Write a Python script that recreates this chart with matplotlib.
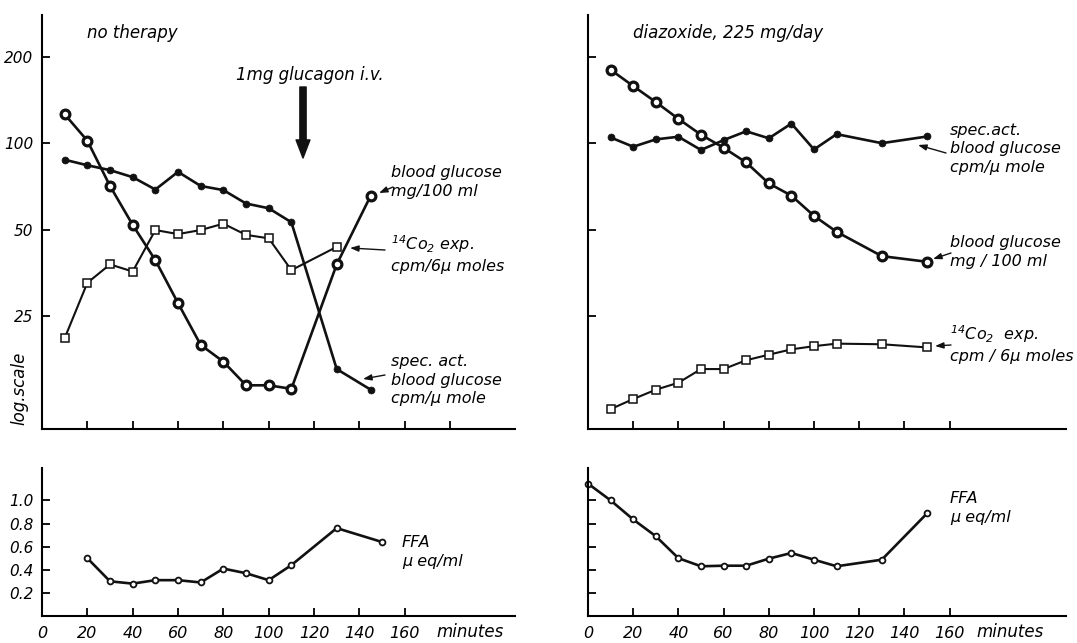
import matplotlib
matplotlib.use("Agg")
import matplotlib.pyplot as plt

W, H = 1077, 643

plt.rcParams["font.family"] = ["DejaVu Sans"]
plt.rcParams["font.style"] = "italic"
plt.rcParams["mathtext.fontset"] = "dejavusans"
plt.rcParams["mathtext.default"] = "it"

# no therapy (minutes / values read off the log scale)
t_left = [10, 20, 30, 40, 50, 60, 70, 80, 90, 100, 110, 130, 145]
glucose_left = [126, 102, 71, 52, 39.2, 27.8, 19.9, 17.4, 14.4, 14.4, 14.0, 37.9, 65.7]
specact_left = [87.6, 83.8, 80.6, 76.2, 69.0, 79.5, 71.0, 68.7, 61.7, 59.4, 53.1, 16.4, 13.9]
t_co2_left = [10, 20, 30, 40, 50, 60, 70, 80, 90, 100, 110, 130]
co2_left = [21.0, 32.7, 37.9, 35.8, 49.9, 48.3, 49.9, 52.5, 48.0, 46.7, 36.2, 43.6]

# diazoxide 225 mg/day
t_right = [10, 20, 30, 40, 50, 60, 70, 80, 90, 100, 110, 130, 150]
glucose_right = [180, 158, 139, 121.5, 107, 96.4, 85.7, 72.5, 65.7, 55.9, 49.2, 40.5, 38.7]
specact_right = [104.7, 97.2, 103.1, 105.3, 94.7, 102.5, 110, 104, 117, 95.1, 107.5, 100, 105.5]
co2_right = [11.9, 12.9, 13.9, 14.7, 16.4, 16.4, 17.6, 18.4, 19.2, 19.7, 20.1, 20.0, 19.5]

# FFA, µeq/ml
t_ffa_left = [20, 30, 40, 50, 60, 70, 80, 90, 100, 110, 130, 150]
ffa_left = [0.50, 0.30, 0.28, 0.31, 0.31, 0.29, 0.41, 0.37, 0.31, 0.44, 0.76, 0.64]
t_ffa_right = [0, 10, 20, 30, 40, 50, 60, 70, 80, 90, 100, 110, 130, 150]
ffa_right = [1.145, 1.0, 0.835, 0.69, 0.50, 0.43, 0.435, 0.435, 0.496, 0.545, 0.487, 0.43, 0.487, 0.887]

log_ticks = [25, 50, 100, 200]
ffa_ticks = [0.2, 0.4, 0.6, 0.8, 1.0]
x_ticks = [0, 20, 40, 60, 80, 100, 120, 140, 160]


def box(l, t, r, b):
    return [l / W, 1 - b / H, (r - l) / W, (b - t) / H]


def P(px, py):
    # reference pixel (top-left origin) -> figure pixels
    return (px, H - py)


def style(ax):
    for s in ["top", "right"]:
        ax.spines[s].set_visible(False)
    for s in ["left", "bottom"]:
        ax.spines[s].set_linewidth(1.5)
    ax.tick_params(direction="in", length=6, width=1.3, labelsize=11)
    ax.minorticks_off()


fig = plt.figure(figsize=(W / 100, H / 100), dpi=100)

ax1 = fig.add_axes(box(42, 15, 515, 429))
ax2 = fig.add_axes(box(588, 15, 1066, 429))
ax3 = fig.add_axes(box(42, 468, 515, 616))
ax4 = fig.add_axes(box(588, 468, 1066, 616))

line = dict(color="#111111", lw=1.9)
thin = dict(color="#111111", lw=1.5)
big_o = dict(marker="o", ms=6.3, mew=2.3, mfc="white", mec="#111111")
dot = dict(marker="o", ms=5, mew=0.5, mfc="#111111", mec="#111111")
sq = dict(marker="s", ms=5.2, mew=1.1, mfc="white", mec="#111111")
small_o = dict(marker="o", ms=4.2, mew=1.3, mfc="white", mec="#111111")

ax1.plot(t_left, specact_left, **line, **dot)
ax1.plot(t_co2_left, co2_left, **thin, **sq)
ax1.plot(t_left, glucose_left, **line, **big_o)

ax2.plot(t_right, specact_right, **line, **dot)
ax2.plot(t_right, co2_right, **thin, **sq)
ax2.plot(t_right, glucose_right, **line, **big_o)

ax3.plot(t_ffa_left, ffa_left, **line, **small_o)
ax4.plot(t_ffa_right, ffa_right, **line, **small_o, clip_on=False)

for ax in (ax1, ax2):
    ax.set_yscale("log")
    ax.set_ylim(10.15, 279)
    ax.set_yticks(log_ticks)
    style(ax)
ax1.set_xlim(0, 473 / 2.267)
ax2.set_xlim(0, 478 / 2.26)
ax1.set_xticks(x_ticks + [180])
ax1.set_xticklabels([])
ax2.set_xticks(x_ticks)
ax2.set_xticklabels([])
ax1.set_yticklabels([str(v) for v in log_ticks])
ax2.set_yticklabels([])
ax1.tick_params(axis="y", pad=6)

for ax in (ax3, ax4):
    ax.set_ylim(0, 1.28)
    ax.set_yticks(ffa_ticks)
    ax.set_xticks(x_ticks)
    style(ax)
    ax.tick_params(axis="x", pad=7, labelsize=11.5)
ax3.set_xlim(0, 473 / 2.267)
ax4.set_xlim(0, 478 / 2.26)
ax3.set_yticklabels([f"{v:.1f}" for v in ffa_ticks])
ax3.tick_params(axis="y", pad=6)
ax4.set_yticklabels([])

fs = 12
afs = 11.5
fig.text(87 / W, 1 - 33 / H, "no therapy", fontsize=fs, va="center")
fig.text(633 / W, 1 - 33 / H, "diazoxide, 225 mg/day", fontsize=fs, va="center")
fig.text(19 / W, 1 - 388 / H, "log.scale", fontsize=fs, rotation=90, ha="center", va="center")

# glucagon arrow
fig.text(310 / W, 1 - 75 / H, "1mg glucagon i.v.", fontsize=fs, ha="center", va="center")
ax1.annotate("", xy=P(303, 158), xycoords="figure pixels", xytext=P(303, 87), textcoords="figure pixels",
             arrowprops=dict(arrowstyle="simple,head_width=1.0,head_length=1.3,tail_width=0.45",
                             color="#111111", shrinkA=0, shrinkB=0))

small_arrow = dict(arrowstyle="-|>,head_width=0.18,head_length=0.5", color="#111111", lw=1.0,
                   shrinkA=0, shrinkB=0)


def label(ax, x, y, txt, tail, tip):
    fig.text(x / W, 1 - y / H, txt, fontsize=afs, va="center", linespacing=1.32)
    ax.annotate("", xy=P(*tip), xycoords="figure pixels", xytext=P(*tail), textcoords="figure pixels",
                arrowprops=small_arrow)


label(ax1, 391, 182, "blood glucose\nmg/100 ml", (393, 187), (379, 193))
label(ax1, 391, 254, "$^{14}$Co$_2$ exp.\ncpm/6µ moles", (385, 250), (350, 248))
label(ax1, 391, 380, "spec. act.\nblood glucose\ncpm/µ mole", (385, 375), (363, 379))

label(ax2, 950, 149, "spec.act.\nblood glucose\ncpm/µ mole", (946, 153), (918, 145))
label(ax2, 950, 252, "blood glucose\nmg / 100 ml", (951, 253), (933, 259))
label(ax2, 950, 344, "$^{14}$Co$_2$  exp.\ncpm / 6µ moles", (951, 345), (935, 346))

fig.text(402 / W, 1 - 552 / H, "FFA\nµ eq/ml", fontsize=afs, va="center", linespacing=1.32)
fig.text(950 / W, 1 - 508 / H, "FFA\nµ eq/ml", fontsize=afs, va="center", linespacing=1.32)

fig.text(436 / W, 1 - 632 / H, "minutes", fontsize=12, va="center")
fig.text(976 / W, 1 - 632 / H, "minutes", fontsize=12, va="center")

fig.savefig("out.png", dpi=100, facecolor="white")
